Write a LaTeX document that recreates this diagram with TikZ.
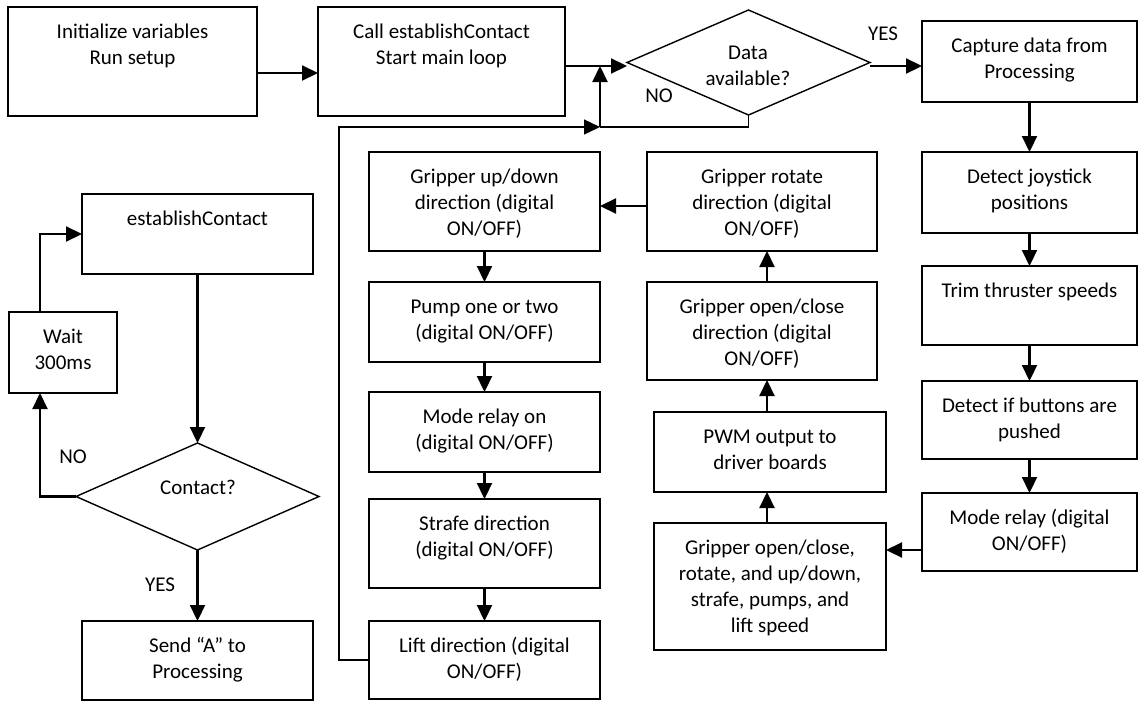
\documentclass[tikz,border=0pt]{standalone}
\usepackage{fontspec}
\setmainfont{Carlito}
\usetikzlibrary{shapes.geometric,arrows.meta}
\tikzset{
  boxline/.style={draw, line width=1.4pt, inner sep=0pt, outer sep=0pt, anchor=north west},
  txt/.style={inner sep=0pt, anchor=base, font=\fontsize{21}{26}\selectfont},
  arr/.style={line width=2.2pt, -{Triangle[length=16pt,width=15pt]}},
  thinline/.style={line width=1.4pt},
  thinarr/.style={line width=1.4pt, -{Triangle[length=16pt,width=15pt]}},
  lbl/.style={inner sep=0pt, font=\fontsize{21}{26}\selectfont},
  dia/.style={draw, diamond, line width=1.4pt, inner sep=0pt, outer sep=0pt},
}
\newcommand\mybox[6]{%
  \node[boxline, minimum width={#4-#2}, minimum height={#5-#3}] (#1) at (#2,-#3) {};
  \node[txt] (#1t) at ({(#2+#4)/2},{-#3-31}) {\begin{tabular}[t]{@{}c@{}}#6\end{tabular}};
}
\begin{document}
\begin{tikzpicture}[x=1pt,y=1pt]
\fill[white] (0,0) rectangle (1144,-702);
\useasboundingbox (0,0) rectangle (1144,-702);

% top row
\mybox{b1}{8}{7}{257}{116}{Initialize variables\\Run setup}
\mybox{b2}{318}{7}{565}{116}{Call establishContact\\Start main loop}
\node[dia, minimum width=243, minimum height=105] (d1) at (748.5,-62.5) {};
\node[txt] (d1t) at (748,-59) {\begin{tabular}[t]{@{}c@{}}Data\\available?\end{tabular}};

% right column
\mybox{b3}{922}{21}{1137}{102}{Capture data from\\Processing}
\mybox{b4}{922}{152}{1137}{233}{Detect joystick\\positions}
\mybox{b5}{922}{266}{1137}{345}{Trim thruster speeds}
\mybox{b6}{922}{381}{1137}{459}{Detect if buttons are\\pushed}
\mybox{b7}{922}{493}{1137}{571}{Mode relay (digital\\ON/OFF)}

% middle column
\mybox{m1}{654}{523}{886}{650}{Gripper open/close,\\rotate, and up/down,\\strafe, pumps, and\\lift speed}
\mybox{m2}{654}{412}{886}{492}{PWM output to\\driver boards}
\mybox{m3}{647}{282}{877}{380}{Gripper open/close\\direction (digital\\ON/OFF)}
\mybox{m4}{647}{152}{877}{251}{Gripper rotate\\direction (digital\\ON/OFF)}

% left-middle column
\mybox{l1}{369}{152}{600}{251}{Gripper up/down\\direction (digital\\ON/OFF)}
\mybox{l2}{369}{282}{600}{362}{Pump one or two\\(digital ON/OFF)}
\mybox{l3}{369}{392}{600}{472}{Mode relay on\\(digital ON/OFF)}
\mybox{l4}{369}{499}{600}{588}{Strafe direction\\(digital ON/OFF)}
\mybox{l5}{369}{621}{600}{699}{Lift direction (digital\\ON/OFF)}

% left column
\mybox{e1}{82}{194}{313}{274}{establishContact}
\mybox{w1}{9}{312}{117}{393}{Wait\\300ms}
\node[dia, minimum width=243, minimum height=107] (d2) at (197.5,-496.5) {};
\node[txt] (d2t) at (198,-494) {Contact?};
\mybox{s1}{82}{621}{313}{700}{Send “A” to\\Processing}

% labels
\node[lbl] (yes1) at (883,-34) {YES};
\node[lbl] (no1) at (659,-96) {NO};
\node[lbl] (no2) at (73,-457) {NO};
\node[lbl] (yes2) at (160,-585) {YES};

% coordinates
\coordinate (r1) at (0,-66);
\coordinate (loopy) at (0,-127);
\coordinate (loopx) at (339,0);
\coordinate (jx) at (600,0);

% connectors top
\draw[arr] ([yshift=-11.5]b1.east) -- ([yshift=-11.5]b2.west);
\draw[arr] (b2.east |- r1) -- (d1.west |- r1);
\draw[thinline] (d1.south) |- (jx |- loopy);
\draw[arr] (jx |- loopy) -- (jx |- r1);
\draw[thinarr] (l5.west) -| (loopx |- loopy) -- (jx |- loopy);
\draw[arr] (d1.east |- r1) -- (b3.west |- r1);

% right column
\draw[arr] (b3.south) -- (b4.north);
\draw[arr] (b4.south) -- (b5.north);
\draw[arr] (b5.south) -- (b6.north);
\draw[arr] (b6.south) -- (b7.north);
\draw[arr] ([yshift=-18]b7.west) -- ([yshift=-18]b7.west -| m1.east);

% middle column
\draw[arr] ([xshift=-3]m1.north) -- ([xshift=-3]m1.north |- m2.south);
\draw[arr] ([xshift=-3]m2.north) -- ([xshift=-3]m2.north |- m3.south);
\draw[arr] ([xshift=5]m3.north) -- ([xshift=5]m3.north |- m4.south);
\draw[arr] ([yshift=-4.5]m4.west) -- ([yshift=-4.5]l1.east);

% left-middle column
\draw[arr] (l1.south) -- (l2.north);
\draw[arr] (l2.south) -- (l3.north);
\draw[arr] (l3.south) -- (l4.north);
\draw[arr] (l4.south) -- (l5.north);

% left column
\draw[arr] (e1.south) -- (d2.north);
\draw[arr] (d2.west) -| ([xshift=-23]w1.south);
\draw[arr] ([xshift=-23]w1.north) |- (e1.west);
\draw[arr] (d2.south) -- (s1.north);
\end{tikzpicture}
\end{document}
